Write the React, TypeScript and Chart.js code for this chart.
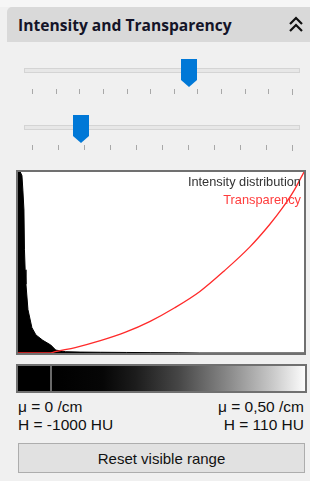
import React, { useEffect, useRef } from "react";
import { Chart, registerables } from "chart.js";

Chart.register(...registerables);

// x axis: attenuation μ (/cm), from 0 to 0.50
const X_MIN = 0;
const X_MAX = 0.5;

// Intensity distribution (normalized histogram height)
const intensityMu = [0, 0.004, 0.0069, 0.0085, 0.0104, 0.0113, 0.0125, 0.0139, 0.0174, 0.0243, 0.0313, 0.0434, 0.0573, 0.066, 0.0833, 0.11, 0.144, 0.19, 0.231, 0.28, 0.318, 0.5];
const intensityVal = [1.0, 1.0, 0.98, 0.9, 0.79, 0.57, 0.46, 0.38, 0.24, 0.14, 0.1, 0.07, 0.044, 0.016, 0.007, 0.005, 0.004, 0.003, 0.002, 0.001, 0, 0];

// Transparency curve
const transparencyMu = [0, 0.057, 0.061, 0.1, 0.144, 0.188, 0.231, 0.274, 0.318, 0.361, 0.405, 0.44, 0.462, 0.483, 0.5];
const transparencyVal = [0, 0, 0.004, 0.03, 0.068, 0.115, 0.175, 0.25, 0.34, 0.455, 0.585, 0.71, 0.8, 0.9, 1.0];

const legendLabels = ["Intensity distribution", "Transparency"];
const leftLabels = ["μ = 0 /cm", "H = -1000 HU"];
const rightLabels = ["μ = 0,50 /cm", "H = 110 HU"];
const titleText = "Intensity and Transparency";
const buttonText = "Reset visible range";

const FONT = "'Liberation Sans', Arial, sans-serif";

function Thumb({ left, top }: { left: number; top: number }) {
  return (
    <svg style={{ position: "absolute", left, top }} width={16} height={28}>
      <polygon points="0,0 16,0 16,21 8,28 0,21" fill="#0078d7" />
    </svg>
  );
}

function Ticks({ count, from, to, top }: { count: number; from: number; to: number; top: number }) {
  const items = [];
  for (let i = 0; i < count; i++) {
    const x = Math.round(from + ((to - from) * i) / (count - 1));
    items.push(
      <div
        key={i}
        style={{ position: "absolute", left: x, top, width: 1, height: i === count - 1 ? 6 : 5, background: "#a8a8a8" }}
      />
    );
  }
  return <>{items}</>;
}

export default function App() {
  const canvasRef = useRef<HTMLCanvasElement | null>(null);

  useEffect(() => {
    const prevMargin = document.body.style.margin;
    document.body.style.margin = "0";
    const ctx = canvasRef.current!.getContext("2d")!;
    const chart = new Chart(ctx, {
      type: "line",
      data: {
        datasets: [
          {
            label: legendLabels[1],
            data: transparencyMu.map((x, i) => ({ x, y: transparencyVal[i] })),
            borderColor: "#ff2a2a",
            borderWidth: 1.3,
            pointRadius: 0,
            fill: false,
            cubicInterpolationMode: "monotone",
            order: 0,
          },
          {
            label: legendLabels[0],
            data: intensityMu.map((x, i) => ({ x, y: intensityVal[i] })),
            borderColor: "#000000",
            backgroundColor: "#000000",
            borderWidth: 1,
            pointRadius: 0,
            fill: "origin",
            tension: 0,
            order: 1,
          },
        ],
      },
      options: {
        animation: false,
        responsive: false,
        maintainAspectRatio: false,
        layout: { padding: 0 },
        plugins: { legend: { display: false }, tooltip: { enabled: false }, title: { display: false } },
        scales: {
          x: { type: "linear", min: X_MIN, max: X_MAX, display: false },
          y: { type: "linear", min: 0, max: 1, display: false },
        },
      },
    });
    return () => {
      chart.destroy();
      document.body.style.margin = prevMargin;
    };
  }, []);

  return (
    <div
      style={{
        position: "fixed",
        left: 0,
        top: 0,
        width: 310,
        height: 481,
        background: "#f0f0f0",
        fontFamily: FONT,
        overflow: "hidden",
      }}
    >
      <div style={{ position: "absolute", left: 0, top: 0, width: 310, height: 7, background: "#f6f6f6" }} />
      {/* header */}
      <div
        style={{
          position: "absolute",
          left: 7,
          top: 7,
          width: 303,
          height: 35,
          background: "#d9d9d9",
          borderTopLeftRadius: 5,
        }}
      />
      <div
        style={{
          position: "absolute",
          left: 18,
          top: 14,
          fontFamily: "'Open Sans', sans-serif",
          fontWeight: 700,
          fontSize: 15.6,
          lineHeight: "22px",
          color: "#141428",
          whiteSpace: "nowrap",
        }}
      >
        {titleText}
      </div>
      <svg style={{ position: "absolute", left: 288, top: 16 }} width={16} height={17}>
        <polyline points="2,8 8,2 14,8" fill="none" stroke="#111" strokeWidth={2.2} />
        <polyline points="2,15 8,9 14,15" fill="none" stroke="#111" strokeWidth={2.2} />
      </svg>

      {/* slider 1 */}
      <div
        style={{
          position: "absolute",
          left: 24,
          top: 68,
          width: 274,
          height: 3,
          background: "#e7e7e7",
          border: "1px solid #d4d4d4",
        }}
      />
      <Thumb left={181} top={59} />
      <Ticks count={12} from={32} to={292} top={89} />

      {/* slider 2 */}
      <div
        style={{
          position: "absolute",
          left: 24,
          top: 125,
          width: 274,
          height: 3,
          background: "#e7e7e7",
          border: "1px solid #d4d4d4",
        }}
      />
      <Thumb left={73} top={115} />
      <Ticks count={11} from={32} to={292} top={145} />

      {/* chart box */}
      <div
        style={{
          position: "absolute",
          left: 16,
          top: 170,
          width: 286,
          height: 181,
          border: "2px solid #707070",
          background: "#ffffff",
        }}
      >
        <canvas ref={canvasRef} width={286} height={181} style={{ display: "block", width: 286, height: 181 }} />
        <div
          style={{
            position: "absolute",
            right: 3,
            top: 1,
            textAlign: "right",
            fontSize: 12.8,
            lineHeight: "18px",
            fontFamily: FONT,
            whiteSpace: "nowrap",
          }}
        >
          <div style={{ color: "#333333" }}>{legendLabels[0]}</div>
          <div style={{ color: "#ff3c3c" }}>{legendLabels[1]}</div>
        </div>
      </div>

      {/* color bar */}
      <div
        style={{
          position: "absolute",
          left: 16,
          top: 364,
          width: 287,
          height: 25,
          border: "2px solid #707070",
          background: "#000",
        }}
      >
        <div style={{ position: "absolute", left: 32, top: 0, width: 2, height: 25, background: "#6a6a6a" }} />
        <div
          style={{
            position: "absolute",
            left: 34,
            top: 0,
            width: 253,
            height: 25,
            background:
              "linear-gradient(to right, #000 0%, #060606 20%, #1c1c1c 33%, #464646 50%, #8a8a8a 70%, #c8c8c8 87%, #fcfcfc 100%)",
          }}
        />
      </div>

      {/* labels */}
      <div style={{ position: "absolute", left: 18, top: 398, fontSize: 15.5, lineHeight: "18px", color: "#111", whiteSpace: "nowrap" }}>
        <div>{leftLabels[0]}</div>
        <div>{leftLabels[1]}</div>
      </div>
      <div
        style={{
          position: "absolute",
          right: 6,
          top: 398,
          fontSize: 15.5,
          lineHeight: "18px",
          color: "#111",
          textAlign: "right",
          whiteSpace: "nowrap",
        }}
      >
        <div>{rightLabels[0]}</div>
        <div>{rightLabels[1]}</div>
      </div>

      {/* button */}
      <div
        style={{
          position: "absolute",
          left: 18,
          top: 443,
          width: 285,
          height: 28,
          background: "#e1e1e1",
          border: "1px solid #adadad",
          display: "flex",
          alignItems: "center",
          justifyContent: "center",
          fontSize: 15,
          color: "#111",
        }}
      >
        {buttonText}
      </div>
    </div>
  );
}
